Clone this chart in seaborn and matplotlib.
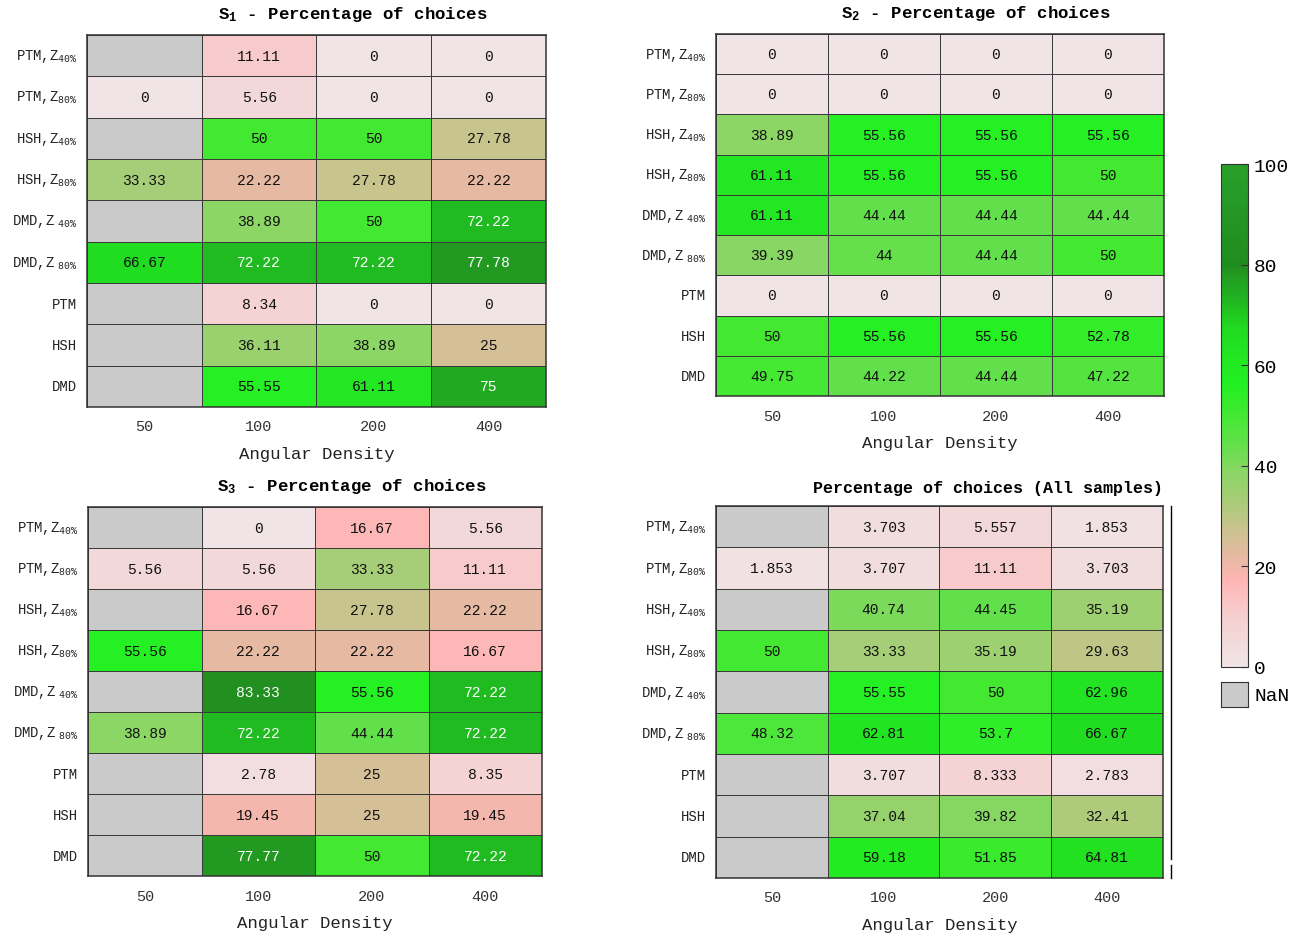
import numpy as np
import pandas as pd
import seaborn as sns
import matplotlib.pyplot as plt
from matplotlib.colors import LinearSegmentedColormap
from matplotlib.lines import Line2D

# dados
nan = np.nan
densidades = ["50", "100", "200", "400"]
linhas = [r"PTM,Z$_{\mathrm{40\%}}$", r"PTM,Z$_{\mathrm{80\%}}$",
          r"HSH,Z$_{\mathrm{40\%}}$", r"HSH,Z$_{\mathrm{80\%}}$",
          r"DMD,Z$_{\ \ \mathrm{40\%}}$", r"DMD,Z$_{\ \ \mathrm{80\%}}$",
          "PTM", "HSH", "DMD"]

s1 = [[nan, 11.11, 0, 0],
      [0, 5.56, 0, 0],
      [nan, 50, 50, 27.78],
      [33.33, 22.22, 27.78, 22.22],
      [nan, 38.89, 50, 72.22],
      [66.67, 72.22, 72.22, 77.78],
      [nan, 8.34, 0, 0],
      [nan, 36.11, 38.89, 25],
      [nan, 55.55, 61.11, 75]]

s2 = [[0, 0, 0, 0],
      [0, 0, 0, 0],
      [38.89, 55.56, 55.56, 55.56],
      [61.11, 55.56, 55.56, 50],
      [61.11, 44.44, 44.44, 44.44],
      [39.39, 44, 44.44, 50],
      [0, 0, 0, 0],
      [50, 55.56, 55.56, 52.78],
      [49.75, 44.22, 44.44, 47.22]]

s3 = [[nan, 0, 16.67, 5.56],
      [5.56, 5.56, 33.33, 11.11],
      [nan, 16.67, 27.78, 22.22],
      [55.56, 22.22, 22.22, 16.67],
      [nan, 83.33, 55.56, 72.22],
      [38.89, 72.22, 44.44, 72.22],
      [nan, 2.78, 25, 8.35],
      [nan, 19.45, 25, 19.45],
      [nan, 77.77, 50, 72.22]]

todas = [[nan, 3.703, 5.557, 1.853],
         [1.853, 3.707, 11.11, 3.703],
         [nan, 40.74, 44.45, 35.19],
         [50, 33.33, 35.19, 29.63],
         [nan, 55.55, 50, 62.96],
         [48.32, 62.81, 53.7, 66.67],
         [nan, 3.707, 8.333, 2.783],
         [nan, 37.04, 39.82, 32.41],
         [nan, 59.18, 51.85, 64.81]]

titulos = [r"S$_{\mathbf{1}}$ - Percentage of choices",
           r"S$_{\mathbf{2}}$ - Percentage of choices",
           r"S$_{\mathbf{3}}$ - Percentage of choices",
           "Percentage of choices (All samples)"]

cores = [(0.00, "#f0e4e6"), (0.10, "#f6cfd0"), (0.17, "#ffb5b5"),
         (0.22, "#e6b9a3"), (0.25, "#d5bf96"), (0.28, "#c6c48c"),
         (0.33, "#a8cc78"), (0.39, "#8ad664"), (0.44, "#64e04c"),
         (0.50, "#44e832"), (0.56, "#22f022"), (0.62, "#22e622"),
         (0.67, "#21dc21"), (0.72, "#20bc20"), (0.78, "#229a22"),
         (0.80, "#1f8c1f"), (1.00, "#2aa02a")]
cmap = LinearSegmentedColormap.from_list("escolhas", cores)

fonte = "Liberation Mono"
plt.rcParams["font.family"] = [fonte, "DejaVu Sans"]
plt.rcParams["mathtext.fontset"] = "custom"
plt.rcParams["mathtext.rm"] = fonte
plt.rcParams["mathtext.it"] = fonte
plt.rcParams["mathtext.bf"] = fonte + ":bold"

fig = plt.figure(figsize=(13.02, 9.37), dpi=100)
posicoes = [[0.0668, 0.5646, 0.3525, 0.397],
            [0.5499, 0.5763, 0.3441, 0.3863],
            [0.0676, 0.0640, 0.3487, 0.3938],
            [0.5499, 0.0619, 0.3433, 0.397]]

for dados, titulo, pos in zip([s1, s2, s3, todas], titulos, posicoes):
  ax = fig.add_axes(pos)
  df = pd.DataFrame(dados, index=linhas, columns=densidades)
  sns.heatmap(df, ax=ax, cmap=cmap, vmin=0, vmax=100, cbar=False,
              annot=True, fmt="g", linewidths=0.6, linecolor="#3a3a3a",
              annot_kws={"fontsize": 10.5, "family": fonte})
  ax.set_facecolor("#cacaca")
  for t in ax.texts:
    t.set_color("white" if float(t.get_text()) > 70 else "#111111")
  for s in ax.spines.values():
    s.set_visible(True)
    s.set_color("#333333")
    s.set_linewidth(1.1)
  ax.tick_params(axis="y", length=0, pad=7)
  ax.tick_params(axis="x", length=0, pad=9)
  ax.set_yticklabels(linhas, rotation=0, fontsize=10, color="#222222")
  ax.set_xticklabels(densidades, rotation=0, fontsize=11, color="#333333")
  ax.set_xlabel("Angular Density", fontsize=12.5, labelpad=9, color="#222222")
  ax.set_ylabel("")
  if titulo.startswith("Percentage"):
    ax.set_title(titulo, fontsize=12, fontweight="bold", loc="right", pad=10)
  else:
    ax.set_title(titulo, fontsize=12.5, fontweight="bold", pad=12, x=0.58)

# barra de cores
cax = fig.add_axes([0.9378, 0.2871, 0.0207, 0.5368])
cb = fig.colorbar(ax.collections[0], cax=cax, ticks=[0, 20, 40, 60, 80, 100])
cb.outline.set_edgecolor("#333333")
cax.tick_params(labelsize=14, length=5, direction="in", color="#333333", pad=4)

nax = fig.add_axes([0.9378, 0.2444, 0.0207, 0.0267])
nax.set_facecolor("#cacaca")
nax.set_xticks([])
nax.set_yticks([])
for s in nax.spines.values():
  s.set_color("#333333")
nax.text(1.25, 0.45, "NaN", transform=nax.transAxes, va="center", ha="left", fontsize=14)

fig.add_artist(Line2D([0.8994, 0.8994], [0.4589, 0.0822], color="black", lw=1))
fig.add_artist(Line2D([0.8994, 0.8994], [0.0758, 0.0619], color="black", lw=1))

plt.savefig("out.png", dpi=100)
